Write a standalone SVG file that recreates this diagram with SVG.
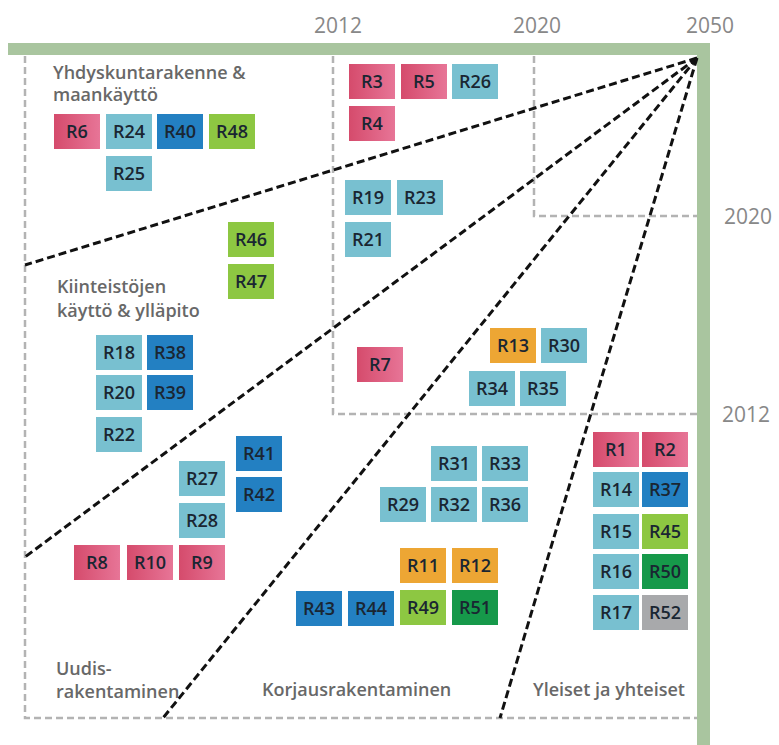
<svg xmlns="http://www.w3.org/2000/svg" width="779" height="745" viewBox="0 0 779 745">
  <defs>
    <linearGradient id="pinkGrad" x1="0" y1="0" x2="1" y2="0">
      <stop offset="0" stop-color="#d54b6c"/>
      <stop offset="1" stop-color="#e77597"/>
    </linearGradient>
  </defs>
  <style>
    .axis { fill: #a9c59f; }
    .frame { fill: none; stroke: #b3b3b3; stroke-width: 2.5; stroke-dasharray: 7 4; }
    .ray { fill: none; stroke: #111; stroke-width: 3; stroke-dasharray: 8 4; }
    .year { font-family: "Open Sans", "Liberation Sans", sans-serif; font-size: 21px; fill: #888888; text-anchor: middle; }
    .area { font-family: "Open Sans", "Liberation Sans", sans-serif; font-size: 18px; font-weight: 600; fill: #686868; }
    .box rect { width: 46px; height: 35px; }
    .box text { font-family: "Open Sans", "Liberation Sans", sans-serif; font-size: 18px; font-weight: 600; fill: #1a2632; text-anchor: middle; }
    .pink rect { fill: url(#pinkGrad); }
    .teal rect { fill: #78c0d0; }
    .dblue rect { fill: #2380c2; }
    .lgreen rect { fill: #8dc742; }
    .orange rect { fill: #eda634; }
    .dgreen rect { fill: #16994a; }
    .grey rect { fill: #a8a9ab; }
  </style>

  <rect width="779" height="745" fill="#ffffff"/>

  <!-- time frames: whole period, from 2012 and from 2020 -->
  <g id="frames">
    <path class="frame" d="M25 56 V718 H697"/>
    <path class="frame" d="M333 56 V414 H697"/>
    <path class="frame" d="M534 56 V216 H697"/>
  </g>

  <!-- axes -->
  <g id="axes">
    <rect class="axis" x="8" y="43" width="702" height="12"/>
    <rect class="axis" x="697" y="43" width="13" height="702"/>
  </g>

  <!-- year labels -->
  <g id="years">
    <text class="year" x="338" y="33">2012</text>
    <text class="year" x="537" y="33">2020</text>
    <text class="year" x="710" y="33">2050</text>
    <text class="year" x="748" y="224">2020</text>
    <text class="year" x="746" y="422">2012</text>
  </g>

  <!-- sector boundaries radiating from 2050 -->
  <g id="connectors">
    <line class="ray" x1="697" y1="58" x2="25" y2="265"/>
    <line class="ray" x1="697" y1="58" x2="25" y2="557"/>
    <line class="ray" x1="697" y1="58" x2="163" y2="718"/>
    <line class="ray" x1="697" y1="58" x2="500" y2="718"/>
  </g>

  <!-- sector labels -->
  <g id="labels">
    <text class="area" x="53" y="79">Yhdyskuntarakenne &amp;</text>
    <text class="area" x="53" y="101">maankäyttö</text>
    <text class="area" x="57" y="293">Kiinteistöjen</text>
    <text class="area" x="57" y="317">käyttö &amp; ylläpito</text>
    <text class="area" x="56" y="675">Uudis-</text>
    <text class="area" x="56" y="698">rakentaminen</text>
    <text class="area" x="262" y="696">Korjausrakentaminen</text>
    <text class="area" x="533" y="696">Yleiset ja yhteiset</text>
  </g>

  <!-- measures -->
  <g id="R6" class="box pink" transform="translate(54 114)"><rect/><text x="23" y="24">R6</text></g>
  <g id="R24" class="box teal" transform="translate(106 114)"><rect/><text x="23" y="24">R24</text></g>
  <g id="R40" class="box dblue" transform="translate(157 114)"><rect/><text x="23" y="24">R40</text></g>
  <g id="R48" class="box lgreen" transform="translate(209 114)"><rect/><text x="23" y="24">R48</text></g>
  <g id="R25" class="box teal" transform="translate(106 156)"><rect/><text x="23" y="24">R25</text></g>

  <g id="R3" class="box pink" transform="translate(349 64)"><rect/><text x="23" y="24">R3</text></g>
  <g id="R5" class="box pink" transform="translate(401 64)"><rect/><text x="23" y="24">R5</text></g>
  <g id="R26" class="box teal" transform="translate(452 64)"><rect/><text x="23" y="24">R26</text></g>
  <g id="R4" class="box pink" transform="translate(349 106)"><rect/><text x="23" y="24">R4</text></g>

  <g id="R19" class="box teal" transform="translate(345 180)"><rect/><text x="23" y="24">R19</text></g>
  <g id="R23" class="box teal" transform="translate(397 180)"><rect/><text x="23" y="24">R23</text></g>
  <g id="R21" class="box teal" transform="translate(345 222)"><rect/><text x="23" y="24">R21</text></g>

  <g id="R46" class="box lgreen" transform="translate(228 222)"><rect/><text x="23" y="24">R46</text></g>
  <g id="R47" class="box lgreen" transform="translate(228 264)"><rect/><text x="23" y="24">R47</text></g>

  <g id="R18" class="box teal" transform="translate(96 335)"><rect/><text x="23" y="24">R18</text></g>
  <g id="R38" class="box dblue" transform="translate(147 335)"><rect/><text x="23" y="24">R38</text></g>
  <g id="R20" class="box teal" transform="translate(96 375)"><rect/><text x="23" y="24">R20</text></g>
  <g id="R39" class="box dblue" transform="translate(147 375)"><rect/><text x="23" y="24">R39</text></g>
  <g id="R22" class="box teal" transform="translate(96 417)"><rect/><text x="23" y="24">R22</text></g>

  <g id="R7" class="box pink" transform="translate(357 347)"><rect/><text x="23" y="24">R7</text></g>
  <g id="R13" class="box orange" transform="translate(490 328)"><rect/><text x="23" y="24">R13</text></g>
  <g id="R30" class="box teal" transform="translate(541 328)"><rect/><text x="23" y="24">R30</text></g>
  <g id="R34" class="box teal" transform="translate(469 371)"><rect/><text x="23" y="24">R34</text></g>
  <g id="R35" class="box teal" transform="translate(520 371)"><rect/><text x="23" y="24">R35</text></g>

  <g id="R41" class="box dblue" transform="translate(236 436)"><rect/><text x="23" y="24">R41</text></g>
  <g id="R42" class="box dblue" transform="translate(236 477)"><rect/><text x="23" y="24">R42</text></g>
  <g id="R27" class="box teal" transform="translate(179 461)"><rect/><text x="23" y="24">R27</text></g>
  <g id="R28" class="box teal" transform="translate(179 503)"><rect/><text x="23" y="24">R28</text></g>
  <g id="R8" class="box pink" transform="translate(74 545)"><rect/><text x="23" y="24">R8</text></g>
  <g id="R10" class="box pink" transform="translate(127 545)"><rect/><text x="23" y="24">R10</text></g>
  <g id="R9" class="box pink" transform="translate(179 545)"><rect/><text x="23" y="24">R9</text></g>
  <g id="R43" class="box dblue" transform="translate(296 591)"><rect/><text x="23" y="24">R43</text></g>
  <g id="R44" class="box dblue" transform="translate(348 591)"><rect/><text x="23" y="24">R44</text></g>

  <g id="R31" class="box teal" transform="translate(431 446)"><rect/><text x="23" y="24">R31</text></g>
  <g id="R33" class="box teal" transform="translate(482 446)"><rect/><text x="23" y="24">R33</text></g>
  <g id="R29" class="box teal" transform="translate(380 487)"><rect/><text x="23" y="24">R29</text></g>
  <g id="R32" class="box teal" transform="translate(431 487)"><rect/><text x="23" y="24">R32</text></g>
  <g id="R36" class="box teal" transform="translate(482 487)"><rect/><text x="23" y="24">R36</text></g>
  <g id="R11" class="box orange" transform="translate(400 548)"><rect/><text x="23" y="24">R11</text></g>
  <g id="R12" class="box orange" transform="translate(452 548)"><rect/><text x="23" y="24">R12</text></g>
  <g id="R49" class="box lgreen" transform="translate(400 590)"><rect/><text x="23" y="24">R49</text></g>
  <g id="R51" class="box dgreen" transform="translate(452 590)"><rect/><text x="23" y="24">R51</text></g>

  <g id="R1" class="box pink" transform="translate(593 432)"><rect/><text x="23" y="24">R1</text></g>
  <g id="R2" class="box pink" transform="translate(642 432)"><rect/><text x="23" y="24">R2</text></g>
  <g id="R14" class="box teal" transform="translate(593 472)"><rect/><text x="23" y="24">R14</text></g>
  <g id="R37" class="box dblue" transform="translate(642 472)"><rect/><text x="23" y="24">R37</text></g>
  <g id="R15" class="box teal" transform="translate(593 514)"><rect/><text x="23" y="24">R15</text></g>
  <g id="R45" class="box lgreen" transform="translate(642 514)"><rect/><text x="23" y="24">R45</text></g>
  <g id="R16" class="box teal" transform="translate(593 554)"><rect/><text x="23" y="24">R16</text></g>
  <g id="R50" class="box dgreen" transform="translate(642 554)"><rect/><text x="23" y="24">R50</text></g>
  <g id="R17" class="box teal" transform="translate(593 595)"><rect/><text x="23" y="24">R17</text></g>
  <g id="R52" class="box grey" transform="translate(642 595)"><rect/><text x="23" y="24">R52</text></g>
</svg>
